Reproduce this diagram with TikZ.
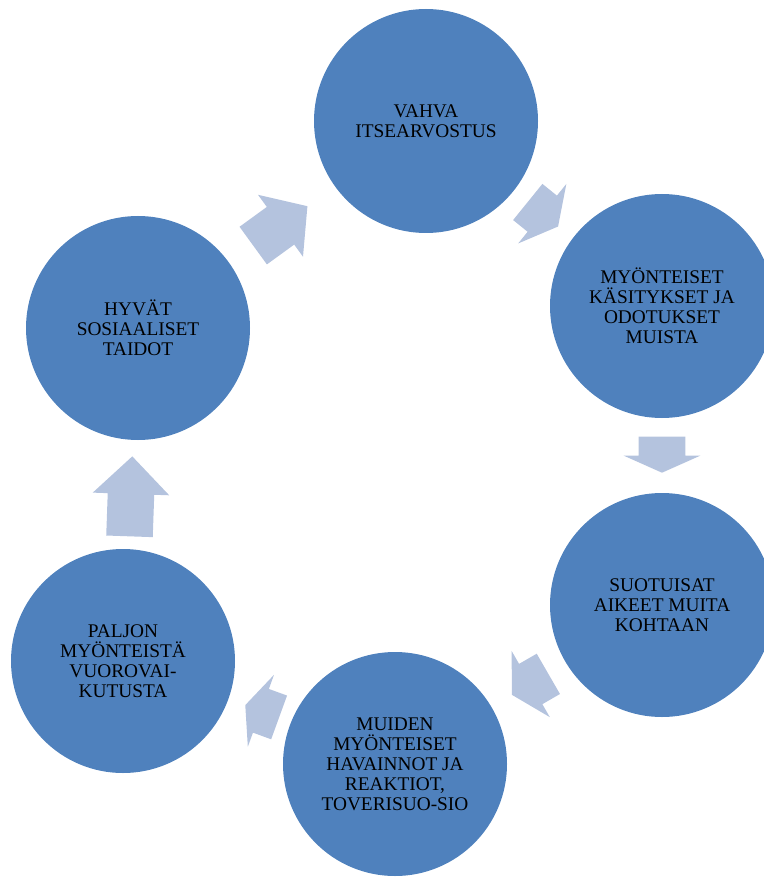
\documentclass[tikz,border=0pt]{standalone}
\usepackage{fontspec}
\setmainfont{Liberation Serif}
\usepackage{tikz}
\usetikzlibrary{shapes.arrows}
\definecolor{cycblue}{RGB}{79,129,189}
\definecolor{arrblue}{RGB}{180,195,222}
\tikzset{
	cyc_n/.style = {circle, fill=cycblue, draw=none, minimum size=168pt,
		inner sep=0pt, align=center, text centered,
		font=\fontsize{14.5}{15}\selectfont},
	cyc_a/.style = {single arrow, fill=arrblue, draw=none, inner xsep=0pt,
		inner ysep=17.25pt, single arrow head extend=11.25pt, anchor=tip}
}
\begin{document}
\begin{tikzpicture}[x=0.75pt, y=-0.75pt]
\useasboundingbox (0,0) rectangle (763,877);
% circles
\node [cyc_n] (itsearvostus) at (426,121) {VAHVA\\ITSEARVOSTUS};
\node [cyc_n] (kasitykset) at (662,306) {MYÖNTEISET\\KÄSITYKSET JA\\ODOTUKSET\\MUISTA};
\node [cyc_n] (aikeet) at (662,605) {SUOTUISAT\\AIKEET MUITA\\KOHTAAN};
\node [cyc_n] (havainnot) at (395,764) {MUIDEN\\MYÖNTEISET\\HAVAINNOT JA\\REAKTIOT,\\TOVERISUO-SIO};
\node [cyc_n] (vuorovaikutus) at (123,661) {PALJON\\MYÖNTEISTÄ\\VUOROVAI-\\KUTUSTA};
\node [cyc_n] (taidot) at (138,328) {HYVÄT\\SOSIAALISET\\TAIDOT};
% arrows
\node [cyc_a, rotate=36, minimum height=50.25pt, single arrow tip angle=98] (a1) at (307.7,206) {};
\node [cyc_a, rotate=-39, minimum height=29.25pt, single arrow tip angle=124] (a2) at (558.3,226.7) {};
\node [cyc_a, rotate=-90, minimum height=27pt, single arrow tip angle=132] (a3) at (662,473) {};
\node [cyc_a, rotate=210, minimum height=31.5pt, single arrow tip angle=121] (a4) at (511.7,695) {};
\node [cyc_a, rotate=160, minimum height=27pt, single arrow tip angle=133] (a5) at (245,705) {};
\node [cyc_a, rotate=88, minimum height=60pt, single arrow tip angle=91] (a6) at (132.3,456) {};
\end{tikzpicture}
\end{document}
